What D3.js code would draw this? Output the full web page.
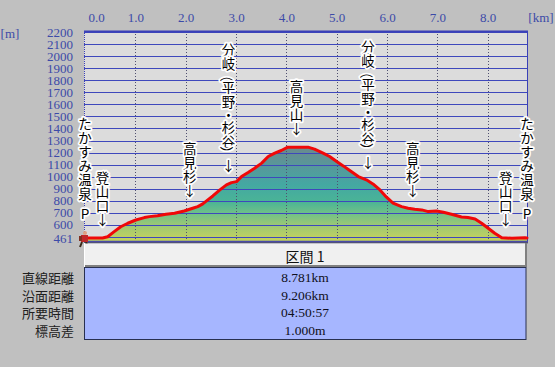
<!DOCTYPE html>
<html><head><meta charset="utf-8">
<script src="https://cdn.jsdelivr.net/npm/d3@7"></script>
<style>body{margin:0;background:#c0c0c0;} svg{display:block}</style>
</head><body>
<script>
// ---- data ----
const distKm = [0, 0.35, 0.45, 0.58, 0.71, 0.85, 1.01, 1.18, 1.28, 1.44, 1.61, 1.78, 1.97, 2.14, 2.24, 2.34, 2.44, 2.54, 2.68, 2.81, 2.91, 3.01, 3.11, 3.24, 3.37, 3.51, 3.64, 3.77, 3.90, 4.03, 4.20, 4.43, 4.56, 4.73, 4.86, 5.00, 5.13, 5.26, 5.43, 5.59, 5.72, 5.86, 5.99, 6.12, 6.29, 6.42, 6.55, 6.69, 6.82, 6.98, 7.12, 7.28, 7.48, 7.61, 7.75, 7.88, 8.01, 8.14, 8.28, 8.48, 8.74, 8.781];
const elevM = [489, 489, 500, 542, 583, 612, 639, 659, 667, 675, 687, 695, 714, 737, 750, 773, 806, 839, 889, 931, 950, 958, 1000, 1034, 1070, 1112, 1167, 1195, 1217, 1245, 1245, 1245, 1228, 1195, 1167, 1125, 1089, 1050, 1000, 973, 939, 889, 829, 779, 750, 737, 728, 723, 709, 714, 703, 687, 664, 659, 648, 612, 570, 529, 492, 487, 492, 490];
const xTicks = [0, 1, 2, 3, 4, 5, 6, 7, 8];
const yTickLabels = [461, 600, 700, 800, 900, 1000, 1100, 1200, 1300, 1400, 1500, 1600, 1700, 1800, 1900, 2000, 2100, 2200];
const gridElev = [500, 600, 700, 800, 900, 1000, 1100, 1200, 1300, 1400, 1500, 1600, 1700, 1800, 1900, 2000, 2100, 2200];
const labelNames = ["たかすみ温泉 P", "登山口↓", "高見杉↓", "分岐（平野・杉谷）↓", "高見山↓", "分岐（平野・杉谷）↓", "高見杉↓", "登山口↓", "たかすみ温泉 P"];
const labelKm = [0, 0.35, 2.08, 2.85, 4.20, 5.62, 6.51, 8.36, 8.781];
const sectionTitle = "区間 1";
const rowLabels = ["直線距離", "沿面距離", "所要時間", "標高差"];
const rowValues = ["8.781km", "9.206km", "04:50:57", "1.000m"];

// ---- layout ----
const W = 555, H = 367;
const L = 84, R = 527, T = 31, B = 241.5;
const svg = d3.select("body").append("svg").attr("width", W).attr("height", H);
svg.append("rect").attr("width", W).attr("height", H).attr("fill", "#c0c0c0");

const x = d3.scaleLinear().domain([0, 8.781]).range([85, 527]);
const y = d3.scaleLinear().domain([461, 2200]).range([241.4, 32.3]);

svg.append("rect").attr("x", L).attr("y", T).attr("width", R - L).attr("height", B - T).attr("fill", "#dcdcdc");

const defs = svg.append("defs");
const grad = defs.append("linearGradient").attr("id", "fillg").attr("gradientUnits", "userSpaceOnUse")
  .attr("x1", 0).attr("x2", 0).attr("y1", y(1250)).attr("y2", y(461));
[[0, "#6b8a8c"], [0.2, "#58979a"], [0.4, "#44a8a2"], [0.58, "#4ab496"], [0.7, "#6ec088"], [0.83, "#9cc874"], [0.95, "#bcd062"], [1, "#c4d45c"]]
  .forEach(s => grad.append("stop").attr("offset", s[0]).attr("stop-color", s[1]));

const pts = distKm.map((d, i) => [d, elevM[i]]);
svg.append("path").datum(pts)
  .attr("d", d3.area().x(d => x(d[0])).y0(y(461)).y1(d => y(d[1])))
  .attr("fill", "url(#fillg)");

// horizontal grid
svg.append("g").selectAll("line").data(gridElev).join("line")
  .attr("x1", L).attr("x2", R)
  .attr("y1", d => Math.round(y(d)) + 0.5).attr("y2", d => Math.round(y(d)) + 0.5)
  .attr("stroke", "#3e48bc").attr("stroke-width", 1);
// vertical dotted grid
svg.append("g").selectAll("line").data(xTicks.filter(d => d > 0)).join("line")
  .attr("x1", d => Math.round(x(d)) + 0.5).attr("x2", d => Math.round(x(d)) + 0.5)
  .attr("y1", T).attr("y2", B)
  .attr("stroke", "#505070").attr("stroke-width", 1).attr("stroke-dasharray", "1,2");

// borders
svg.append("line").attr("x1", L).attr("x2", R + 1).attr("y1", T + 0.5).attr("y2", T + 0.5).attr("stroke", "#3a40b8").attr("stroke-width", 2);
svg.append("line").attr("x1", L + 0.5).attr("x2", L + 0.5).attr("y1", T).attr("y2", B).attr("stroke", "#3a40b8").attr("stroke-dasharray", "1,1");
svg.append("line").attr("x1", R + 0.5).attr("x2", R + 0.5).attr("y1", T).attr("y2", B).attr("stroke", "#3a40b8");
svg.append("line").attr("x1", L).attr("x2", R + 1).attr("y1", 241.5).attr("y2", 241.5).attr("stroke", "#4a4aa8").attr("stroke-width", 1.5);
svg.append("line").attr("x1", L).attr("x2", R + 1).attr("y1", 242.8).attr("y2", 242.8).attr("stroke", "#303060").attr("stroke-width", 1);

// profile line
svg.append("path").datum(pts)
  .attr("d", d3.line().x(d => x(d[0])).y(d => y(d[1])))
  .attr("fill", "none").attr("stroke", "#f00808").attr("stroke-width", 3)
  .attr("stroke-linejoin", "round").attr("stroke-linecap", "round");

// axes
const yAxis = svg.append("g").attr("transform", `translate(${L},0)`)
  .call(d3.axisLeft(y).tickValues(yTickLabels).tickSize(0).tickPadding(11).tickFormat(d3.format("d")));
yAxis.select(".domain").remove();
yAxis.selectAll("text").attr("font-family", "Liberation Serif").attr("font-size", 13).attr("fill", "#3c4aa8");
yAxis.selectAll(".tick").filter(d => d === 461).select("text").attr("dy", "0.1em");

const xAxis = svg.append("g").attr("transform", "translate(0,25)")
  .call(d3.axisTop(x).tickValues(xTicks).tickSize(0).tickPadding(3).tickFormat(d3.format(".1f")));
xAxis.select(".domain").remove();
xAxis.selectAll("text").attr("font-family", "Liberation Serif").attr("font-size", 13).attr("fill", "#3c4aa8");
xAxis.selectAll(".tick").filter(d => d === 0).select("text").attr("dx", 11);

svg.append("text").attr("x", 541).attr("y", 21.5).attr("text-anchor", "middle")
  .attr("font-family", "Liberation Serif").attr("font-size", 13).attr("fill", "#3c4aa8").text("[km]");
svg.append("text").attr("x", 10).attr("y", 37.5).attr("text-anchor", "middle")
  .attr("font-family", "Liberation Serif").attr("font-size", 13).attr("fill", "#3c4aa8").text("[m]");

// labels (vertical, stacked characters)
const bis = d3.bisector(d => d).left;
function elevAt(k) {
  let i = bis(distKm, k);
  if (i <= 0) return elevM[0];
  if (i >= distKm.length) return elevM[elevM.length - 1];
  const t = (k - distKm[i - 1]) / (distKm[i] - distKm[i - 1]);
  return elevM[i - 1] + t * (elevM[i] - elevM[i - 1]);
}
const isParen = c => c === "（" || c === "）";
function adv(c) {
  if (isParen(c)) return 10;
  if (c === " ") return 6;
  if (c === "・") return 12;
  return 14;
}
const lab = svg.append("g");
labelNames.forEach((name, li) => {
  const chars = Array.from(name);
  const px = x(labelKm[li]);
  const last = chars[chars.length - 1];
  let cy = y(elevAt(labelKm[li])) - (last === "↓" ? 19 : 25);
  const ys = [];
  for (let i = chars.length - 1; i >= 0; i--) {
    ys[i] = cy;
    if (i > 0) cy -= (adv(chars[i]) + adv(chars[i - 1])) / 2;
  }
  chars.forEach((c, i) => {
    if (c === " ") return;
    const t = lab.append("text")
      .attr("text-anchor", "middle").attr("dominant-baseline", "central")
      .attr("font-family", "Noto Sans CJK JP").attr("font-size", 13.5)
      .attr("fill", "#000").attr("stroke", "#fff").attr("stroke-width", 3.5)
      .attr("stroke-linejoin", "round").attr("paint-order", "stroke")
      .text(c);
    if (isParen(c)) {
      t.attr("x", 0).attr("y", 0).attr("transform", `translate(${px},${ys[i]}) rotate(90)`);
    } else {
      t.attr("x", px).attr("y", ys[i]);
    }
  });
});

// hiker icon
const hk = svg.append("g").attr("transform", "translate(85,240)");
hk.append("path").attr("d", "M-3,2 L-5,7 M1,2 L3,7").attr("stroke", "#3a2a1a").attr("stroke-width", 2).attr("fill", "none");
hk.append("rect").attr("x", -4).attr("y", -5).attr("width", 7).attr("height", 7).attr("fill", "#c02828");
hk.append("rect").attr("x", -6).attr("y", -4).attr("width", 3).attr("height", 5).attr("fill", "#803020");
hk.append("circle").attr("cx", 0).attr("cy", -7).attr("r", 2).attr("fill", "#e0a080");

// table
svg.append("rect").attr("x", L).attr("y", 243.5).attr("width", R - L).attr("height", 23).attr("fill", "#f0f0f0");
svg.append("line").attr("x1", L).attr("x2", R).attr("y1", 266).attr("y2", 266).attr("stroke", "#808080").attr("stroke-width", 2);
svg.append("line").attr("x1", R - 1).attr("x2", R - 1).attr("y1", 243).attr("y2", 267).attr("stroke", "#808080").attr("stroke-width", 2);
svg.append("line").attr("x1", L + 0.5).attr("x2", L + 0.5).attr("y1", 243).attr("y2", 267).attr("stroke", "#ffffff");
svg.append("text").attr("x", 305).attr("y", 256).attr("text-anchor", "middle").attr("dominant-baseline", "central")
  .attr("font-family", "Noto Sans CJK JP").attr("font-size", 14).attr("fill", "#101010").text(sectionTitle);
svg.append("rect").attr("x", L + 0.5).attr("y", 267.5).attr("width", R - L - 1.5).attr("height", 72)
  .attr("fill", "#a6b6ff").attr("stroke", "#283050").attr("stroke-width", 1);

const rowY = d3.scalePoint().domain(rowLabels).range([277.3, 330.7]);
svg.append("g").selectAll("text").data(rowLabels).join("text")
  .attr("x", 74).attr("y", d => rowY(d)).attr("text-anchor", "end").attr("dominant-baseline", "central")
  .attr("font-family", "Noto Sans CJK JP").attr("font-size", 13).attr("fill", "#202020").text(d => d);
svg.append("g").selectAll("text").data(rowValues).join("text")
  .attr("x", 305).attr("y", (d, i) => rowY(rowLabels[i])).attr("text-anchor", "middle").attr("dominant-baseline", "central")
  .attr("font-family", "Liberation Serif").attr("font-size", 13.5).attr("fill", "#101020").text(d => d);
</script>
</body></html>
